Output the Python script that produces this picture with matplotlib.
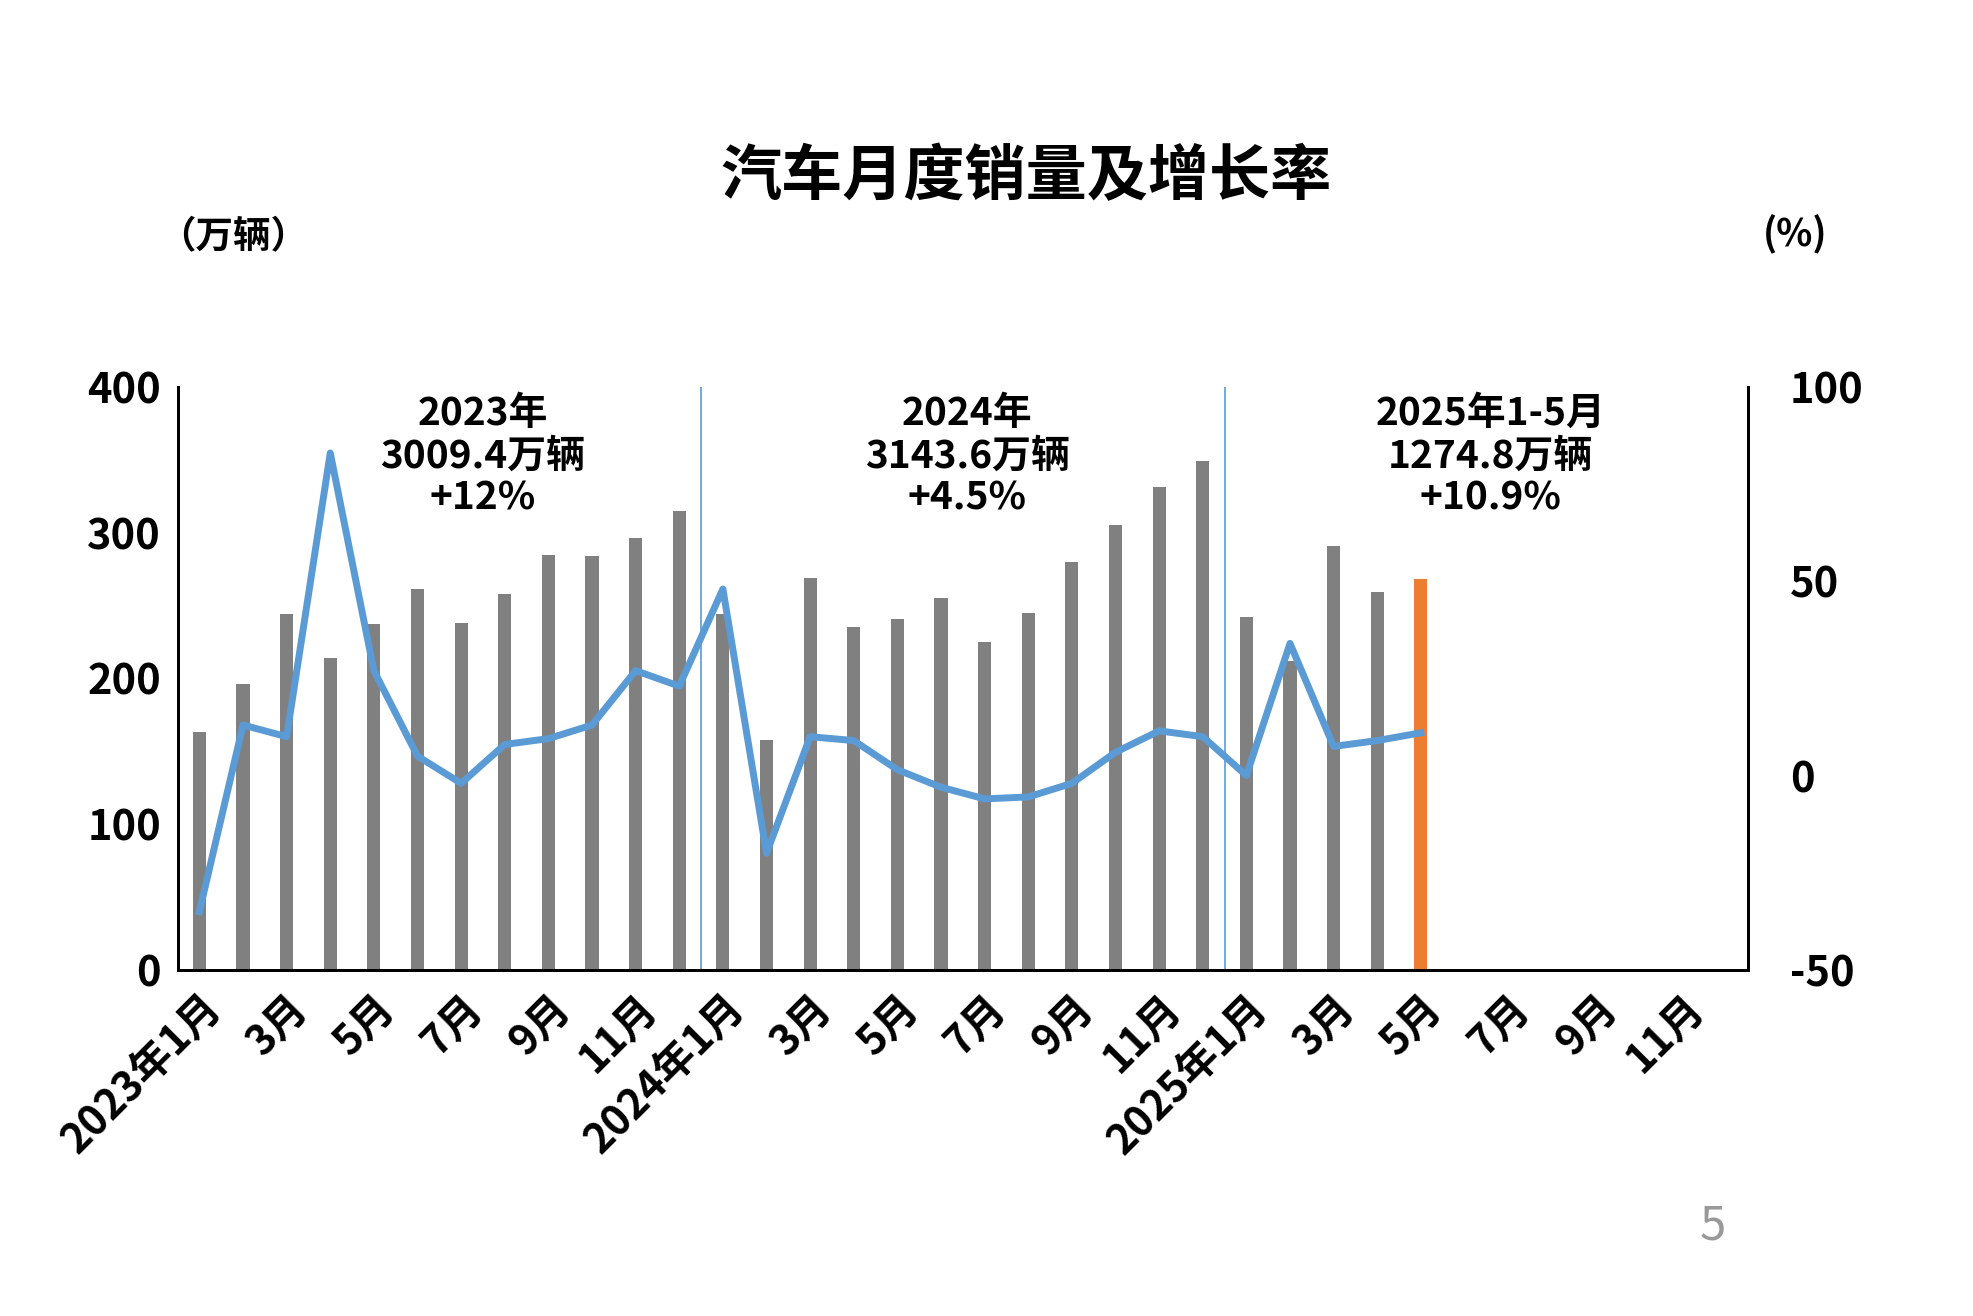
import matplotlib
matplotlib.use("Agg")
from matplotlib import pyplot as plt
import numpy as np

plt.rcParams['font.family'] = ['Noto Sans CJK SC', 'DejaVu Sans']
plt.rcParams['axes.unicode_minus'] = False

# 月度销量（万辆）, 2023年1月 - 2025年5月
sales = [163, 196, 244, 214, 237, 261, 238, 258, 285, 284, 296, 315,
         244, 158, 269, 235, 241, 255, 225, 245, 280, 305, 331, 349,
         242, 212, 291, 259, 268]
# 同比增长率（%）
growth = [-35, 13, 10, 83, 27, 5, -2, 8, 9.5, 13, 27, 23,
          48, -20, 10, 9, 1.5, -3, -6, -5.5, -2, 6, 11.5, 10,
          0, 34, 7.5, 9, 11]

labels = []
for y in [2023, 2024, 2025]:
    for m in range(1, 13):
        labels.append(f"{y}年{m}月" if m == 1 else f"{m}月")

notes = [("2023年\n3009.4万辆\n+12%", 6.5),
         ("2024年\n3143.6万辆\n+4.5%", 17.6),
         ("2025年1-5月\n1274.8万辆\n+10.9%", 29.6)]

fig = plt.figure(figsize=(19.73, 13.16), dpi=100)
ax = fig.add_axes([0.090, 0.263, 0.806 - 0.01, 0.443])
ax2 = ax.twinx()

x = np.arange(len(sales))
colors = ['#808080'] * (len(sales) - 1) + ['#ED7D31']
ax.bar(x, sales, width=0.3, color=colors, zorder=2)
ax.set_xlim(-0.5, 35.5)
ax.set_ylim(0, 400)
ax.set_yticks([0, 100, 200, 300, 400])
ax.set_xticks(np.arange(0, 36, 2))
ax.set_xticklabels(labels[::2], rotation=45, ha='right', rotation_mode='anchor')
ax.tick_params(axis='both', length=0, labelsize=30, pad=12)
for t in ax.get_xticklabels() + ax.get_yticklabels():
    t.set_fontweight('bold')

ax2.plot(x, growth, color='#5B9BD5', lw=5, zorder=3)
ax2.set_ylim(-50, 100)
ax2.set_yticks([-50, 0, 50, 100])
ax2.tick_params(axis='y', length=0, labelsize=30, pad=30)
for t in ax2.get_yticklabels():
    t.set_fontweight('bold')

for a in (ax, ax2):
    a.spines['top'].set_visible(False)
    for s in ['left', 'right', 'bottom']:
        a.spines[s].set_linewidth(2)
        a.spines[s].set_color('black')

for xv in [11.5, 23.5]:
    ax.axvline(xv, color='#5B9BD5', lw=1.2, zorder=1)

for txt, xv in notes:
    ax.text(xv, 395, txt, ha='center', va='top', fontsize=28,
            fontweight='bold', linespacing=1.1)

fig.text(0.52, 0.865, "汽车月度销量及增长率", ha='center', va='center',
         fontsize=44, fontweight='bold')
fig.text(0.08, 0.82, "（万辆）", ha='left', va='center', fontsize=27,
         fontweight='bold')
fig.text(0.91, 0.822, "(%)", ha='center', va='center', fontsize=27,
         fontweight='bold')
fig.text(0.868, 0.068, "5", ha='center', va='center', fontsize=34,
         color='#999999')

fig.savefig("out.png", dpi=100, facecolor='white')
